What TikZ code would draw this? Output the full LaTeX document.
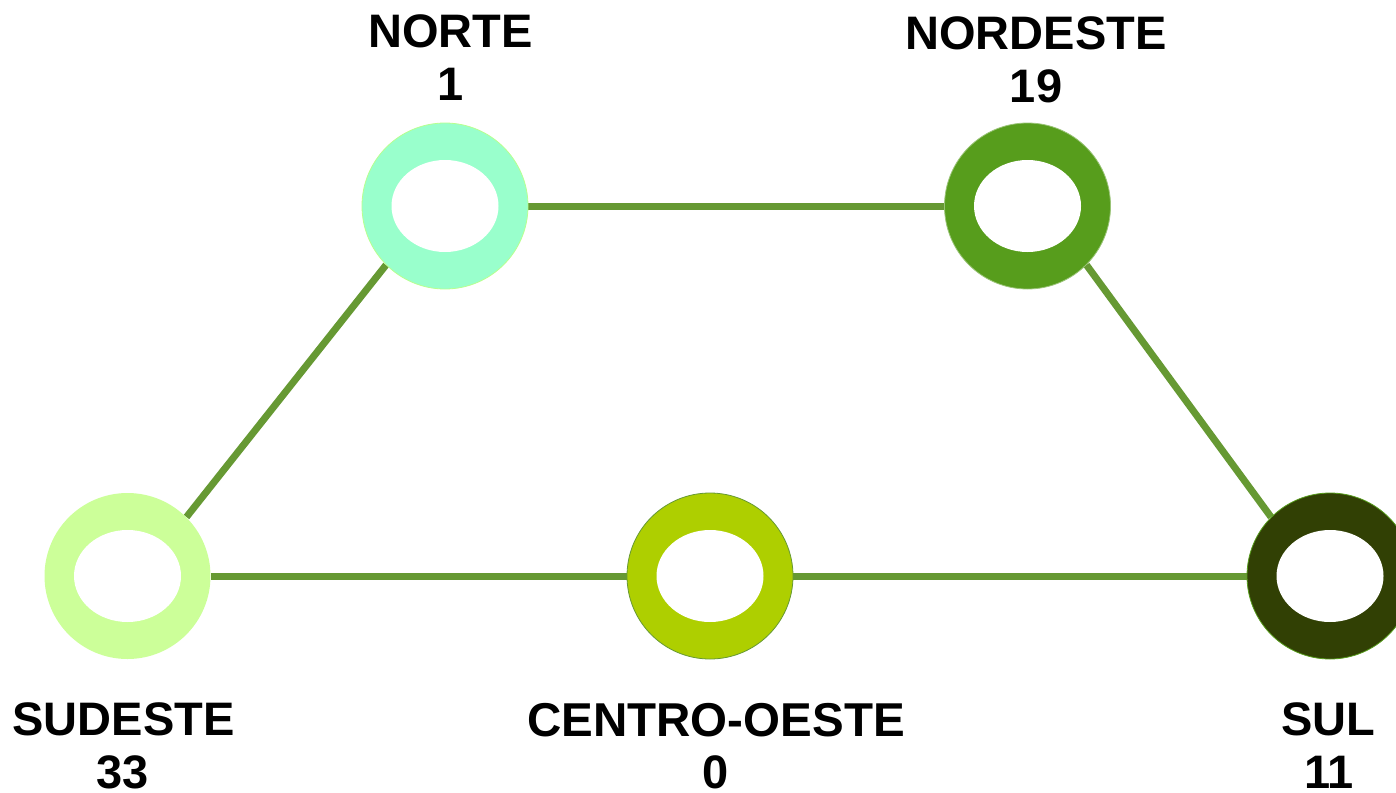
\documentclass[tikz,border=0pt]{standalone}
\usepackage{fontspec}
\setmainfont{Liberation Sans}
\usetikzlibrary{backgrounds}
\definecolor{cnorte}{HTML}{99FFCC}
\definecolor{cnordeste}{HTML}{579D1C}
\definecolor{csudeste}{HTML}{CCFF99}
\definecolor{ccentro}{HTML}{AECF00}
\definecolor{csul}{HTML}{314004}
\definecolor{cline}{HTML}{669933}
\tikzset{
  ring/.style={circle, minimum size=166pt, inner sep=0pt, line width=0.8pt},
  link/.style={draw=cline, line width=7pt},
  lbl/.style={anchor=base, inner sep=0pt, font=\fontsize{47}{52}\selectfont\bfseries, text=black},
}
\begin{document}
\begin{tikzpicture}[x=1pt,y=-1pt]
\useasboundingbox (0,0) rectangle (1396,792);
% rings
\node[ring, fill=cnorte, draw=cnorte!70!yellow] (norte) at (445,206) {};
\node[ring, fill=cnordeste, draw=cnordeste!60!white] (nordeste) at (1027.5,206) {};
\node[ring, fill=csudeste] (sudeste) at (127.5,576) {};
\node[ring, fill=ccentro, draw=cline] (centro) at (710,576) {};
\node[ring, fill=csul, draw=cnordeste] (sul) at (1330,576) {};
\foreach \n in {norte,nordeste,sudeste,centro,sul}
  \fill[white] (\n.center) ellipse [x radius=53.5pt, y radius=46pt];
% connectors
\begin{scope}[on background layer]
\fill[white] (0,0) rectangle (1396,792);
\draw[link] (norte) -- (nordeste);
\draw[link] (sudeste.north east) -- (norte.south west);
\draw[link] (nordeste.south east) -- (sul.north west);
\draw[link] (sudeste) -- (centro);
\draw[link] (centro) -- (sul);
\end{scope}
% labels
\node[lbl] (tnorte) at (450.5,48) {NORTE};
\node[lbl] (vnorte) at (451,100) {1};
\node[lbl] (tnordeste) at (1036,49) {NORDESTE};
\node[lbl] (vnordeste) at (1036,102) {19};
\node[lbl] (tsudeste) at (123.5,735) {SUDESTE};
\node[lbl] (vsudeste) at (123,788) {33};
\node[lbl, font=\fontsize{47.5}{52}\selectfont\bfseries] (tcentro) at (716,736) {CENTRO-OESTE};
\node[lbl] (vcentro) at (716,788) {0};
\node[lbl] (tsul) at (1328,735) {SUL};
\node[lbl] (vsul) at (1329,788) {11};
\end{tikzpicture}
\end{document}
